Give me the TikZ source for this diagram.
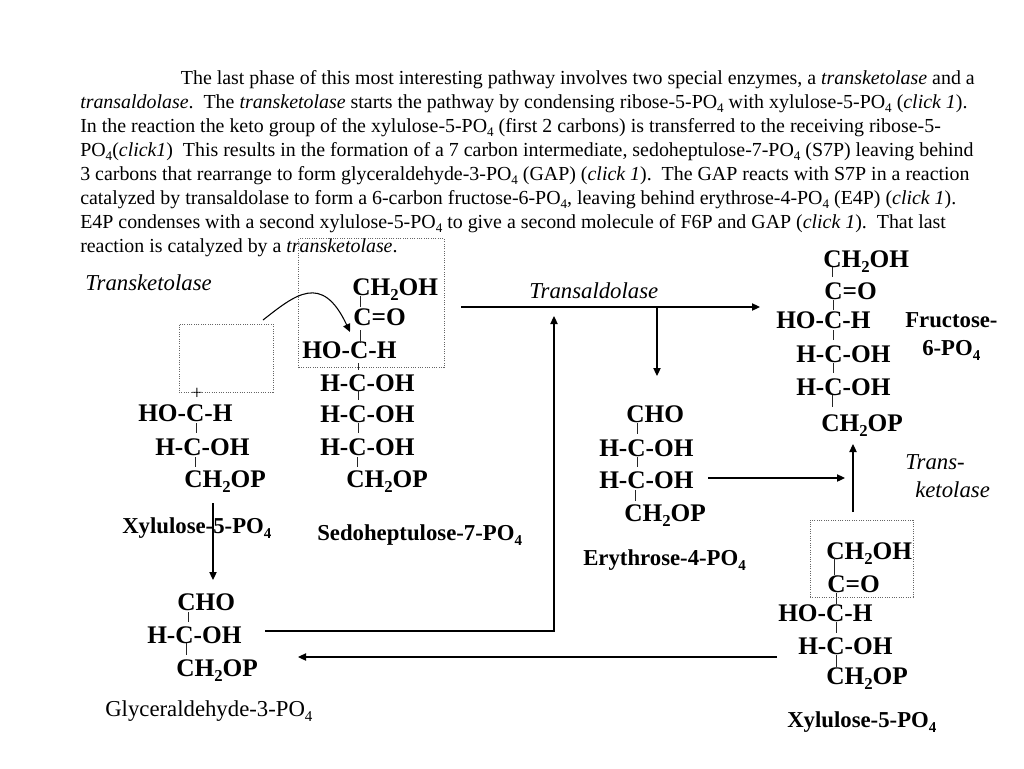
\documentclass[tikz,border=0pt]{standalone}
\usepackage{graphicx}
\usepackage{fontspec}
\setmainfont{Liberation Serif}
\usetikzlibrary{arrows.meta}
\newcommand{\idx}[1]{\raisebox{-0.5ex}{\scalebox{0.66}{#1}}}
\newcommand{\chemsize}{\fontsize{19}{22}\selectfont}
\newcommand{\namesize}{\fontsize{17.07}{20}\selectfont}
\newcommand{\bodysize}{\fontsize{14.93}{18}\selectfont}
\tikzset{
  chem/.style={anchor=base west,inner sep=0pt,xshift=-0.75pt,font=\chemsize\bfseries},
  molname/.style={anchor=base west,inner sep=0pt,font=\namesize\bfseries},
  enzyme/.style={anchor=base west,inner sep=0pt,xshift=-0.75pt,font=\namesize\itshape},
  bond/.style={draw=black!85,line width=0.7pt},
  flow/.style={draw=black,line width=0.8pt,-{Triangle[length=6pt,width=5.5pt]}},
  group/.style={draw=black!60,densely dotted,line width=0.75pt},
}
\begin{document}
\begin{tikzpicture}[x=0.75pt,y=-0.75pt]
  \useasboundingbox (0,0) rectangle (1024,768);
  \node[anchor=base west,inner sep=0pt,align=left,font=\bodysize] (intro) at (80,252) {%
    \hspace*{75.5pt}The last phase of this most interesting pathway involves two special enzymes, a \textit{transketolase} and a\\
    \textit{transaldolase}.\ \ The \textit{transketolase} starts the pathway by condensing ribose-5-PO\idx{4} with xylulose-5-PO\idx{4} (\textit{click 1}).\\
    In the reaction the keto group of the xylulose-5-PO\idx{4} (first 2 carbons) is transferred to the receiving ribose-5-\\
    PO\idx{4}(\textit{click1})\ \ This results in the formation of a 7 carbon intermediate, sedoheptulose-7-PO\idx{4} (S7P) leaving behind\\
    3 carbons that rearrange to form glyceraldehyde-3-PO\idx{4} (GAP) (\textit{click 1}).\ \ The GAP reacts with S7P in a reaction\\
    catalyzed by transaldolase to form a 6-carbon fructose-6-PO\idx{4}, leaving behind erythrose-4-PO\idx{4} (E4P) (\textit{click 1}).\\
    E4P condenses with a second xylulose-5-PO\idx{4} to give a second molecule of F6P and GAP (\textit{click 1}).\ \ That last\\
    reaction is catalyzed by a \textit{transketolase}.};

  % enzymes
  \node[enzyme] (tkone) at (86,290) {Transketolase};
  \node[enzyme] (taldo) at (530,298) {Transaldolase};
  \node[enzyme] (tktwoa) at (906,469) {Trans-};
  \node[enzyme] (tktwob) at (916,497) {ketolase};

  % xylulose, left
  \node[anchor=center,inner sep=0pt,font=\bodysize] (plus) at (197,394) {+};
  \node[chem] (xla) at (139,421) {HO-C-H};
  \node[chem] (xlb) at (156,455) {H-C-OH};
  \node[chem] (xlc) at (185,487) {CH\idx{2}OP};
  \node[molname] (xlname) at (122,533) {Xylulose-5-PO\idx{4}};

  % sedoheptulose
  \node[chem] (sha) at (353,295) {CH\idx{2}OH};
  \node[chem] (shb) at (354,325) {C=O};
  \node[chem] (shc) at (303,358) {HO-C-H};
  \node[chem] (shd) at (321,391) {H-C-OH};
  \node[chem] (she) at (321,422) {H-C-OH};
  \node[chem] (shf) at (321,455) {H-C-OH};
  \node[chem] (shg) at (347,487) {CH\idx{2}OP};
  \node[molname] (shname) at (317,540) {Sedoheptulose-7-PO\idx{4}};

  % erythrose
  \node[chem] (era) at (627,422) {CHO};
  \node[chem] (erb) at (600,456) {H-C-OH};
  \node[chem] (erc) at (600,488) {H-C-OH};
  \node[chem] (erd) at (625,521) {CH\idx{2}OP};
  \node[molname] (ername) at (583,565) {Erythrose-4-PO\idx{4}};

  % fructose
  \node[chem] (fra) at (824,267) {CH\idx{2}OH};
  \node[chem] (frb) at (825,299) {C=O};
  \node[chem] (frc) at (777,328) {HO-C-H};
  \node[chem] (frd) at (797,362) {H-C-OH};
  \node[chem] (fre) at (797,395) {H-C-OH};
  \node[chem] (frf) at (822,431) {CH\idx{2}OP};
  \node[molname] (frnamea) at (905,327) {Fructose-};
  \node[molname] (frnameb) at (922,355) {6-PO\idx{4}};

  % xylulose, right
  \node[chem] (xra) at (827,559) {CH\idx{2}OH};
  \node[chem] (xrb) at (828,592) {C=O};
  \node[chem] (xrc) at (779,621) {HO-C-H};
  \node[chem] (xrd) at (799,654) {H-C-OH};
  \node[chem] (xre) at (827,684) {CH\idx{2}OP};
  \node[molname] (xrname) at (787,727) {Xylulose-5-PO\idx{4}};

  % glyceraldehyde
  \node[chem] (gaa) at (178,610) {CHO};
  \node[chem] (gab) at (148,643) {H-C-OH};
  \node[chem] (gac) at (177,676) {CH\idx{2}OP};
  \node[anchor=base west,inner sep=0pt,font=\namesize] (ganame) at (105,716) {Glyceraldehyde-3-PO\idx{4}};

  % bonds
  \foreach \n/\x/\ya/\yb in {
    a/196/423/433, b/195/457/467,
    c/360/296/307, d/360/330/343, e/358/363/370, f/358/390/400, g/358/423/433, h/357/457/467,
    i/637/423/434, j/637/457/467, k/635/490/501,
    l/832/267/277, m/833/300/310, n/833/330/340, o/833/363/373, p/832/395/407,
    q/834/558/575, r/836/593/604, s/836/622/633, t/836/655/667,
    u/188/612/622, v/186/643/655}
  {
    \coordinate (bt\n) at (\x,\ya);
    \coordinate (bb\n) at (\x,\yb);
    \draw[bond] (bt\n) -- (bb\n);
  }

  % dotted groups
  \node[group,minimum width=145.5*0.75pt,minimum height=129*0.75pt,inner sep=0pt] (groupa) at (371.5,303) {};
  \node[group,minimum width=94*0.75pt,minimum height=68*0.75pt,inner sep=0pt] (groupb) at (226,358) {};
  \node[group,minimum width=103*0.75pt,minimum height=77*0.75pt,inner sep=0pt] (groupc) at (861.5,558.5) {};

  % arrows
  \coordinate (xlout) at (213,503);
  \coordinate (gain) at (213,580);
  \draw[flow] (xlout) -- (gain);

  \coordinate (curvea) at (263,320);
  \coordinate (curveb) at (350,332);
  \draw[flow] (curvea) .. controls (295,295) and (322,272) .. (curveb);

  \coordinate (shout) at (461,307);
  \coordinate (frin) at (760,307);
  \coordinate (split) at (657,307);
  \coordinate (erin) at (657,376);
  \draw[flow] (shout) -- (frin);
  \draw[flow] (split) -- (erin);

  \coordinate (gaout) at (265,631);
  \coordinate (corner) at (554,631);
  \coordinate (shin) at (554,316);
  \draw[flow] (gaout) -- (corner) -- (shin);

  \coordinate (xrout) at (777,657);
  \coordinate (gaback) at (298,657);
  \draw[flow] (xrout) -- (gaback);

  \coordinate (erout) at (708,478);
  \coordinate (join) at (845,478);
  \draw[flow] (erout) -- (join);

  \coordinate (xrup) at (853,512);
  \coordinate (frup) at (853,444);
  \draw[flow] (xrup) -- (frup);
\end{tikzpicture}
\end{document}
